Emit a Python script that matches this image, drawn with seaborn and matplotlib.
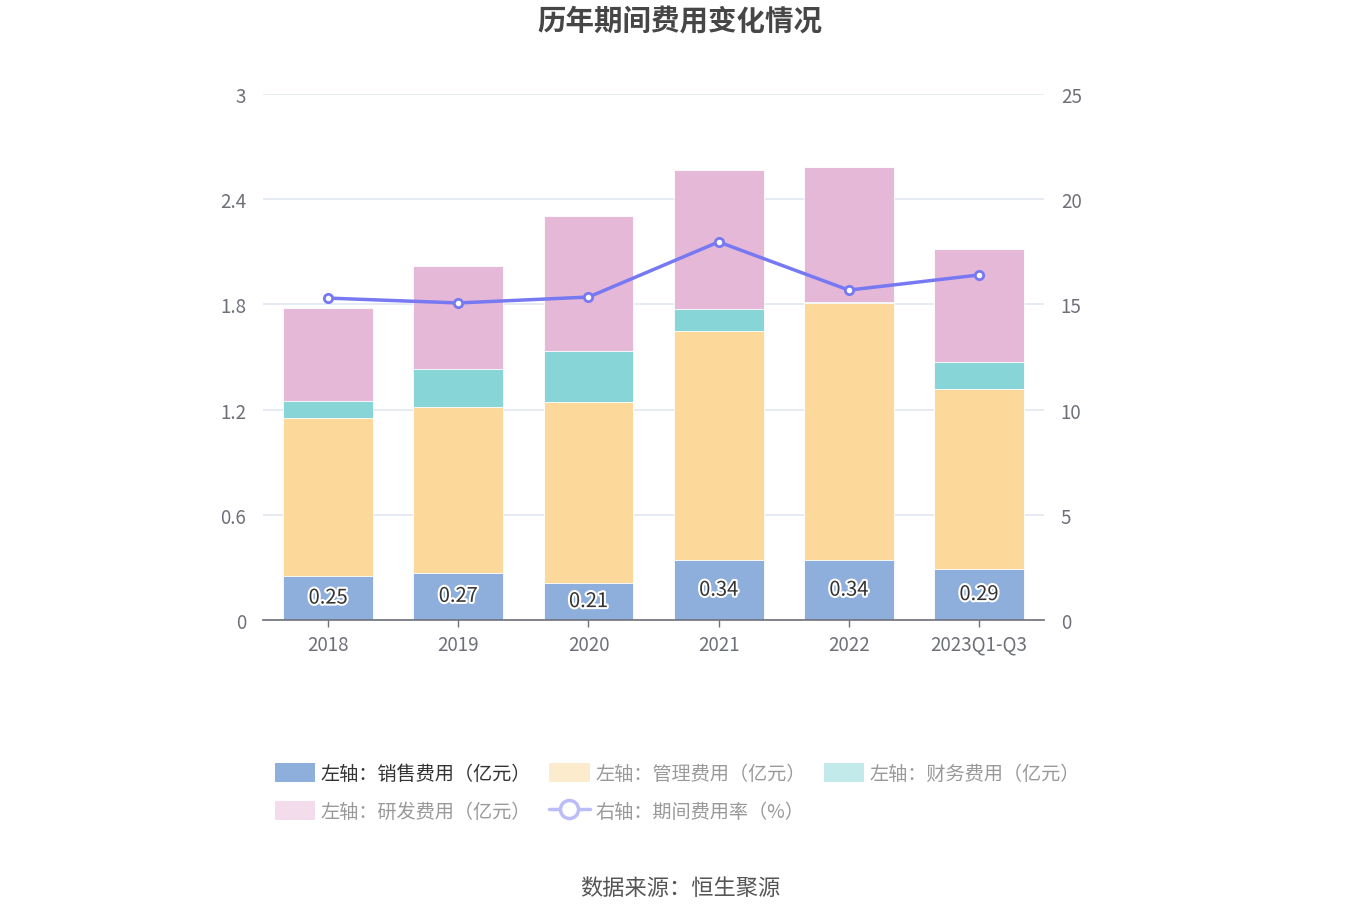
import numpy as np
import pandas as pd
import matplotlib
matplotlib.use("Agg")
import matplotlib.pyplot as plt
import matplotlib.patheffects as pe
from matplotlib.patches import FancyBboxPatch
from matplotlib.lines import Line2D
import seaborn as sns

# data
years = ["2018", "2019", "2020", "2021", "2022", "2023Q1-Q3"]
sales = [0.25, 0.27, 0.21, 0.34, 0.34, 0.29]          # 销售费用
mgmt = [0.90, 0.945, 1.035, 1.31, 1.47, 1.03]         # 管理费用
fin = [0.097, 0.217, 0.29, 0.125, 0.005, 0.153]        # 财务费用
rd = [0.53, 0.59, 0.77, 0.79, 0.77, 0.645]            # 研发费用
rate = [15.30, 15.07, 15.35, 17.97, 15.68, 16.40]      # 期间费用率 %

sns.set_theme(style="white")
plt.rcParams['font.family'] = ['Noto Sans CJK SC', 'DejaVu Sans']

c_sales = "#8eaedb"
c_mgmt = "#fdd89b"
c_fin = "#88d5d8"
c_rd = "#e6b8d7"
c_line = "#7679f2"
grey = "#6e7079"

df = pd.DataFrame({"year": years, "sales": sales, "mgmt": mgmt, "fin": fin, "rd": rd})
df["c1"] = df["sales"]
df["c2"] = df["c1"] + df["mgmt"]
df["c3"] = df["c2"] + df["fin"]
df["c4"] = df["c3"] + df["rd"]

fig = plt.figure(figsize=(13.6, 9.2), dpi=100)
ax = fig.add_axes([0.1934, 0.325, 0.5743, 0.5717])

# stacked bars: draw the cumulative totals from the top down
for col, c in [("c4", c_rd), ("c3", c_fin), ("c2", c_mgmt), ("c1", c_sales)]:
    sns.barplot(data=df, x="year", y=col, color=c, width=0.69, ax=ax,
                saturation=1, edgecolor="white", linewidth=0.6)

ax.set_ylim(0, 3)
ax.set_xlim(-0.5, 5.5)
ax.set_yticks([0, 0.6, 1.2, 1.8, 2.4, 3])
ax.set_yticklabels(["0", "0.6", "1.2", "1.8", "2.4", "3"])
ax.set_xlabel("")
ax.set_ylabel("")
ax.yaxis.grid(True, color="#e0e6f1", linewidth=1.2)
ax.set_axisbelow(True)
for s in ["top", "right", "left"]:
    ax.spines[s].set_visible(False)
ax.spines["bottom"].set_color(grey)
ax.spines["bottom"].set_linewidth(1.2)
ax.tick_params(axis="x", colors=grey, labelsize=13.5, length=5, width=1, pad=5, bottom=True)
ax.tick_params(axis="y", colors=grey, labelsize=13.5, length=0, pad=12)
for t in ax.get_xticklabels():
    t.set_color(grey)

# value labels on the sales segment
for i, v in enumerate(sales):
    ax.text(i, v / 2, f"{v:.2f}", ha="center", va="center", fontsize=14.5,
            color="#333333",
            path_effects=[pe.withStroke(linewidth=3, foreground="white")])

# right axis: expense rate
ax2 = ax.twinx()
sns.lineplot(x=np.arange(len(years)), y=rate, ax=ax2, color=c_line, linewidth=2.5,
             marker="o", markersize=6, markerfacecolor="white",
             markeredgecolor=c_line, markeredgewidth=2)
ax2.set_ylim(0, 25)
ax2.set_yticks([0, 5, 10, 15, 20, 25])
ax2.set_xlim(-0.5, 5.5)
for s in ["top", "right", "left", "bottom"]:
    ax2.spines[s].set_visible(False)
ax2.tick_params(axis="y", colors=grey, labelsize=13.5, length=0, pad=12)
ax2.grid(False)

fig.text(0.5, 0.976, "历年期间费用变化情况", ha="center", va="center",
         fontsize=20.5, fontweight="bold", color="#464646")

# legend (reordered so the rows read left to right)
h_sales = FancyBboxPatch((0, 0), 1, 1, boxstyle="round,pad=0.1", fc=c_sales, ec="none")
h_mgmt = FancyBboxPatch((0, 0), 1, 1, boxstyle="round,pad=0.1", fc="#fdebcd", ec="none")
h_fin = FancyBboxPatch((0, 0), 1, 1, boxstyle="round,pad=0.1", fc="#c3eaeb", ec="none")
h_rd = FancyBboxPatch((0, 0), 1, 1, boxstyle="round,pad=0.1", fc="#f3dcec", ec="none")
h_rate = Line2D([0], [0], color="#bcbdf8", linewidth=2.5, marker="o", markersize=13,
                markerfacecolor="white", markeredgecolor="#bcbdf8", markeredgewidth=2.5)
handles = [h_sales, h_rd, h_mgmt, h_rate, h_fin]
labels = ["左轴：销售费用（亿元）", "左轴：研发费用（亿元）", "左轴：管理费用（亿元）",
          "右轴：期间费用率（%）", "左轴：财务费用（亿元）"]
leg = fig.legend(handles, labels, loc="upper left", bbox_to_anchor=(0.202, 0.170),
                 ncol=3, frameon=False, fontsize=13.8, handlelength=2.1, handleheight=1.15,
                 handletextpad=0.3, columnspacing=0.95, labelspacing=0.9,
                 borderaxespad=0, borderpad=0)
for t in leg.get_texts():
    t.set_color("#333333" if t.get_text().startswith("左轴：销售") else "#999999")

fig.text(0.5, 0.034, "数据来源：恒生聚源", ha="center", va="center",
         fontsize=16, color="#555555")

fig.savefig("out.png", dpi=100)
